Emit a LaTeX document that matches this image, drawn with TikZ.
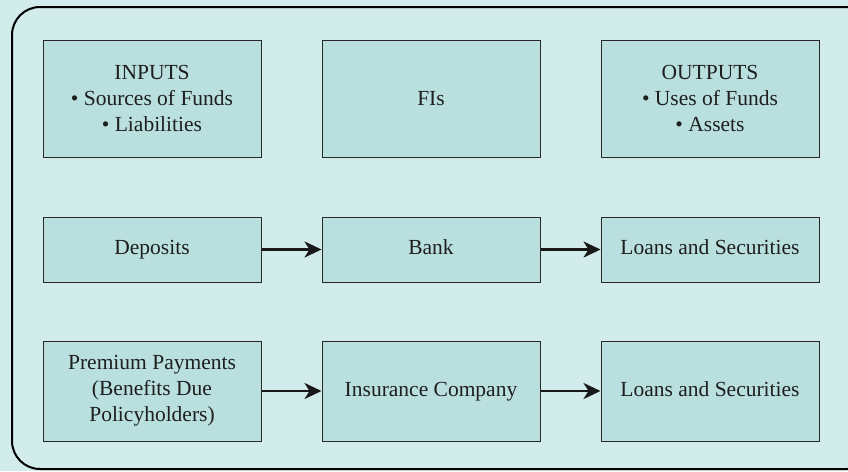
\documentclass[tikz,border=0pt]{standalone}
\usepackage{fontspec}
\setmainfont{Liberation Serif}
\usetikzlibrary{arrows.meta}
\definecolor{bgcol}{RGB}{210,235,235}
\definecolor{boxcol}{RGB}{185,224,223}
\definecolor{edgecol}{RGB}{40,40,40}
\definecolor{txtcol}{RGB}{30,30,30}
\tikzset{
  fibox/.style={draw=edgecol, line width=1pt, fill=boxcol, rectangle, inner sep=0pt,
    minimum width=218pt, align=center, text=txtcol,
    font=\fontsize{21.5}{26}\selectfont},
  flow/.style={line width=2.5pt, draw=black!90, -{Stealth[length=17pt,width=16pt,inset=5pt]}},
}
\begin{document}
\begin{tikzpicture}[x=1pt,y=-1pt]
\useasboundingbox (0,0) rectangle (848,471);
\fill[bgcol] (0,0) rectangle (848,471);
\begin{scope}
\clip (0,0) rectangle (848,471);
\draw[line width=2pt, rounded corners=28pt] (12,7) rectangle (875,469);
\end{scope}
% row 1
\node[fibox, minimum height=117pt] (in) at (152,98.5) {INPUTS\\• Sources of Funds\\• Liabilities};
\node[fibox, minimum height=117pt] (fi) at (431,98.5) {FIs};
\node[fibox, minimum height=117pt] (out) at (710,98.5) {OUTPUTS\\• Uses of Funds\\• Assets};
% row 2
\node[fibox, minimum height=65pt] (dep) at (152,249.5) {\strut Deposits};
\node[fibox, minimum height=65pt] (bank) at (431,249.5) {\strut Bank};
\node[fibox, minimum height=65pt] (loan1) at (710,249.5) {\strut Loans and Securities};
% row 3
\node[fibox, minimum height=100pt] (prem) at (152,391) {Premium Payments\\(Benefits Due\\Policyholders)};
\node[fibox, minimum height=100pt] (ins) at (431,391) {\strut Insurance Company};
\node[fibox, minimum height=100pt] (loan2) at (710,391) {\strut Loans and Securities};
% arrows
\draw[flow] (dep.east) -- (bank.west);
\draw[flow] (bank.east) -- (loan1.west);
\draw[flow] (prem.east) -- (ins.west);
\draw[flow] (ins.east) -- (loan2.west);
\end{tikzpicture}
\end{document}
